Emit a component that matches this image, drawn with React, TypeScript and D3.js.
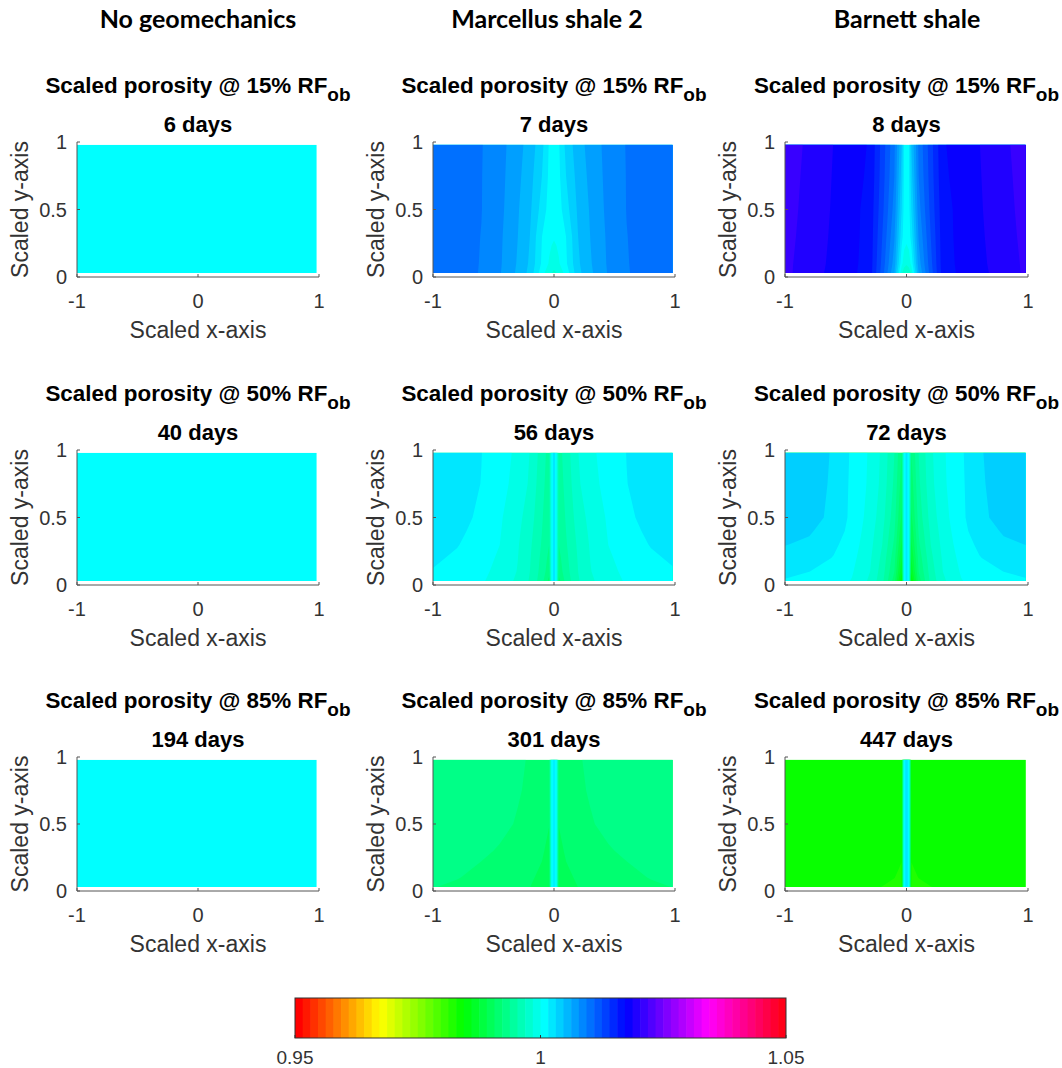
import React from "react";
import * as d3 from "d3";

// ---------- colour scale (MATLAB hsv(64), caxis [0.95 1.05]) ----------
const CMIN = 0.95;
const CMAX = 1.05;
const CMID = 1.0;
const NCOLORS = 64;
const STEP = (CMAX - CMIN) / NCOLORS;

// ---------- labels ----------
const columnHeaders = ["No geomechanics", "Marcellus shale 2", "Barnett shale"];
const rfLevels = ["15%", "50%", "85%"];
const daysByRow = [
  [6, 7, 8],
  [40, 56, 72],
  [194, 301, 447],
];
const xTicks = [-1, 0, 1];
const xTickLabels = ["-1", "0", "1"];
const yTicks = [0, 0.5, 1];
const yTickLabels = ["0", "0.5", "1"];
const cbTicks = [0.95, 1, 1.05];
const cbTickLabels = ["0.95", "1", "1.05"];

// ---------- sampled field geometry ----------
// distance from the fracture (mirrored on both sides of x = 0)
const gridDist = [0, 0.02, 0.04, 0.1, 0.2, 0.3, 0.45, 0.6, 0.8, 1.0];
// scaled y of each sampled row (bottom -> top)
const gridY = [0.03, 0.1, 0.3, 0.5, 0.75, 0.98];
const gridY50 = [0.03, 0.1, 0.2, 0.3, 0.4, 0.5, 0.75, 0.98];
const dataXMax = 0.98;

// ---------- scaled porosity values (rows = y rows, cols = gridDist) ----------
const noGeoPorosity = 1.0;

const marcellus15 = [
  [0.99813, 0.99844, 0.99891, 1.00063, 1.00422, 1.00594, 1.00797, 1.00927, 1.01, 1.01031],
  [0.99906, 0.99938, 0.99984, 1.00133, 1.00445, 1.00609, 1.00805, 1.0093, 1.01, 1.01031],
  [1.00016, 1.00031, 1.00047, 1.00158, 1.0047, 1.00627, 1.00813, 1.00934, 1.01008, 1.01039],
  [1.00047, 1.0007, 1.00094, 1.0025, 1.005, 1.00641, 1.00828, 1.00941, 1.01008, 1.01039],
  [1.00063, 1.00094, 1.00125, 1.00314, 1.00531, 1.00664, 1.00836, 1.00942, 1.01016, 1.01047],
  [1.00078, 1.00109, 1.00141, 1.00359, 1.00563, 1.0068, 1.00844, 1.00945, 1.01016, 1.01047],
];

const barnett15 = [
  [0.99688, 0.99734, 0.99875, 1.00627, 1.01172, 1.01641, 1.0175, 1.0182, 1.01961, 1.02063],
  [0.99875, 0.99922, 1.00047, 1.00703, 1.01203, 1.01648, 1.01758, 1.01831, 1.01969, 1.02063],
  [1.00047, 1.00078, 1.00219, 1.00797, 1.01252, 1.01656, 1.01766, 1.01844, 1.01984, 1.0207],
  [1.0007, 1.00109, 1.00314, 1.00875, 1.01297, 1.01664, 1.01766, 1.01855, 1.01992, 1.02078],
  [1.00086, 1.00133, 1.00406, 1.00939, 1.01328, 1.01688, 1.01781, 1.01864, 1.02, 1.02086],
  [1.00094, 1.00141, 1.0047, 1.00969, 1.01344, 1.01703, 1.01789, 1.01872, 1.02008, 1.02094],
];

const marcellus50 = [
  [1.0025, 1.00031, 0.99156, 0.99438, 0.99672, 0.99813, 0.99938, 1.00016, 1.00078, 1.00117],
  [1.0025, 1.00031, 0.99281, 0.99469, 0.99689, 0.99836, 0.99953, 1.00039, 1.00109, 1.00148],
  [1.0025, 1.00031, 0.99328, 0.99492, 0.99703, 0.99847, 0.99977, 1.00063, 1.00133, 1.0018],
  [1.0025, 1.00031, 0.99377, 0.99516, 0.99719, 0.99859, 1.00002, 1.00086, 1.00164, 1.00211],
  [1.0025, 1.00031, 0.99398, 0.99533, 0.99742, 0.99875, 1.00013, 1.00106, 1.00188, 1.00227],
  [1.0025, 1.00031, 0.99422, 0.99547, 0.99766, 0.99891, 1.00023, 1.00125, 1.00211, 1.00242],
  [1.0025, 1.00031, 0.99453, 0.99578, 0.9982, 0.99953, 1.00047, 1.00153, 1.00227, 1.00258],
  [1.0025, 1.00031, 0.99469, 0.99609, 0.99841, 0.99969, 1.00063, 1.00159, 1.00234, 1.00266],
];

const barnett50 = [
  [1.00219, 1.00047, 0.9844, 0.99141, 0.99578, 0.99813, 0.99992, 1.00063, 1.00109, 1.00141],
  [1.00219, 1.00047, 0.98625, 0.9922, 0.99609, 0.99845, 1.00016, 1.00094, 1.00158, 1.00203],
  [1.00219, 1.00047, 0.98752, 0.99281, 0.99648, 0.99867, 1.00047, 1.00148, 1.00234, 1.00266],
  [1.00219, 1.00047, 0.98875, 0.99344, 0.99689, 0.99891, 1.00078, 1.00188, 1.00289, 1.00317],
  [1.00219, 1.00047, 0.98953, 0.99391, 0.99719, 0.99914, 1.00102, 1.00242, 1.00328, 1.00359],
  [1.00219, 1.00047, 0.99031, 0.99438, 0.9975, 0.99938, 1.00117, 1.00281, 1.00359, 1.00391],
  [1.00219, 1.00047, 0.99141, 0.995, 0.99797, 0.99969, 1.00125, 1.00289, 1.00383, 1.00414],
  [1.00219, 1.00047, 0.9922, 0.99533, 0.99813, 0.99977, 1.00133, 1.00297, 1.00391, 1.00422],
];

const marcellus85 = [
  [1.00188, 1.00063, 0.98969, 0.99016, 0.99064, 0.99109, 0.99148, 0.9918, 0.99203, 0.99222],
  [1.00188, 1.00063, 0.98984, 0.99039, 0.99078, 0.99117, 0.99156, 0.99195, 0.99223, 0.99242],
  [1.00188, 1.00063, 0.99031, 0.99078, 0.99125, 0.99164, 0.99211, 0.99234, 0.9925, 0.99266],
  [1.00188, 1.00063, 0.99066, 0.99125, 0.99172, 0.99211, 0.99242, 0.99258, 0.99266, 0.99273],
  [1.00188, 1.00063, 0.99125, 0.99156, 0.99203, 0.99227, 0.9925, 0.99266, 0.99273, 0.99281],
  [1.00188, 1.00063, 0.99141, 0.99172, 0.99211, 0.99234, 0.9925, 0.99266, 0.99273, 0.99281],
];

const barnett85 = [
  [1.00188, 1.00125, 0.98219, 0.98242, 0.98277, 0.98313, 0.98344, 0.98359, 0.98359, 0.98359],
  [1.00188, 1.00125, 0.9825, 0.98284, 0.98328, 0.98352, 0.98359, 0.98359, 0.98359, 0.98359],
  [1.00188, 1.00125, 0.98305, 0.98328, 0.98352, 0.98359, 0.98359, 0.98359, 0.98359, 0.98359],
  [1.00188, 1.00125, 0.98328, 0.98344, 0.98359, 0.98359, 0.98359, 0.98359, 0.98359, 0.98359],
  [1.00188, 1.00125, 0.98344, 0.98352, 0.98359, 0.98359, 0.98359, 0.98359, 0.98359, 0.98359],
  [1.00188, 1.00125, 0.98344, 0.98352, 0.98359, 0.98359, 0.98359, 0.98359, 0.98359, 0.98359],
];

const noGeoField = gridY.map(() => gridDist.map(() => noGeoPorosity));

const fields = [
  [
    { ys: gridY, z: noGeoField },
    { ys: gridY, z: marcellus15 },
    { ys: gridY, z: barnett15 },
  ],
  [
    { ys: gridY, z: noGeoField },
    { ys: gridY50, z: marcellus50 },
    { ys: gridY50, z: barnett50 },
  ],
  [
    { ys: gridY, z: noGeoField },
    { ys: gridY, z: marcellus85 },
    { ys: gridY, z: barnett85 },
  ],
];

// ---------- layout ----------
const colLayout = [
  { left: 77, right: 319, header: 198 },
  { left: 433, right: 675, header: 547 },
  { left: 785, right: 1028, header: 907 },
];
const rowLayout = [
  { top: 142, bottom: 277 },
  { top: 450, bottom: 585 },
  { top: 757, bottom: 891 },
];
const cbBox = { left: 295, right: 786, top: 998, bottom: 1038 };

const FONT = "'Liberation Sans', Arial, Helvetica, sans-serif";
const HEADER_FONT = "Lato, 'Open Sans', sans-serif";
const TEXT_COLOR = "#333333";
const AXIS_COLOR = "#555555";

const thresholdOf = (k: number) => CMID + (k - NCOLORS / 2) * STEP;
const colorOf = (k: number) => d3.hsl((k / NCOLORS) * 360, 1, 0.5).formatHex();
const indexOf = (v: number) =>
  Math.max(0, Math.min(NCOLORS - 1, Math.floor((v - CMID) / STEP + NCOLORS / 2 + 1e-6)));

const fullX = [...gridDist.slice(1).map((d) => -d).reverse(), ...gridDist];

function contourBands(ys: number[], field: number[][], xScale: any, yScale: any) {
  const nx = fullX.length;
  const ny = ys.length;
  const values = field.flatMap((row) => [...row.slice(1).reverse(), ...row]);
  const ix = d3.scaleLinear().domain(d3.range(nx)).range(fullX);
  const iy = d3.scaleLinear().domain(d3.range(ny)).range(ys);
  const cx = (g: number) => Math.max(0, Math.min(nx - 1, g - 0.5));
  const cy = (g: number) => Math.max(0, Math.min(ny - 1, g - 0.5));
  const path = d3.geoPath(
    d3.geoTransform({
      point(x: number, y: number) {
        (this as any).stream.point(xScale(ix(cx(x))), yScale(iy(cy(y))));
      },
    })
  );
  const gen = d3.contours().size([nx, ny]);
  const [mn, mx] = d3.extent(values) as [number, number];
  const kLo = indexOf(mn);
  const kHi = indexOf(mx);
  const bands: { k: number; d: string }[] = [];
  for (let k = kLo; k <= kHi; k++) {
    const t = k === kLo ? mn - 1 : thresholdOf(k);
    const geom = gen.contour(values, t);
    const d = path(geom as any);
    if (d) bands.push({ k, d });
  }
  return bands;
}

function Panel({ r, c }: { r: number; c: number }) {
  const col = colLayout[c];
  const row = rowLayout[r];
  const xScale = d3.scaleLinear().domain([-1, 1]).range([col.left, col.right]);
  const yScale = d3.scaleLinear().domain([0, 1]).range([row.bottom, row.top]);
  const f = fields[r][c];
  const bands = contourBands(f.ys, f.z, xScale, yScale);
  const cxMid = (col.left + col.right) / 2;
  const clipId = `clip-${r}-${c}`;
  const y0 = yScale(0);
  const x0 = xScale(-1);
  return (
    <g>
      <defs>
        <clipPath id={clipId}>
          <rect
            x={xScale(-1)}
            y={yScale(f.ys[f.ys.length - 1])}
            width={xScale(dataXMax) - xScale(-1)}
            height={yScale(f.ys[0]) - yScale(f.ys[f.ys.length - 1])}
          />
        </clipPath>
      </defs>
      <g clipPath={`url(#${clipId})`}>
        {bands.map((b) => (
          <path key={b.k} d={b.d} fill={colorOf(b.k)} stroke="none" />
        ))}
      </g>
      {/* axes */}
      <line x1={xScale(-1)} x2={xScale(1)} y1={y0} y2={y0} stroke={AXIS_COLOR} strokeWidth={1} />
      <line x1={x0} x2={x0} y1={yScale(0)} y2={yScale(1)} stroke={AXIS_COLOR} strokeWidth={1} />
      {xTicks.map((t, i) => (
        <g key={`xt${i}`}>
          <line x1={xScale(t)} x2={xScale(t)} y1={y0} y2={y0 - 3} stroke={AXIS_COLOR} strokeWidth={1} />
          <text
            x={xScale(t)}
            y={y0 + 31}
            textAnchor="middle"
            fontSize={20}
            fontFamily={FONT}
            fill={TEXT_COLOR}
          >
            {xTickLabels[i]}
          </text>
        </g>
      ))}
      {yTicks.map((t, i) => (
        <g key={`yt${i}`}>
          <line x1={x0} x2={x0 + 3} y1={yScale(t)} y2={yScale(t)} stroke={AXIS_COLOR} strokeWidth={1} />
          <text
            x={x0 - 10}
            y={yScale(t) + 7}
            textAnchor="end"
            fontSize={20}
            fontFamily={FONT}
            fill={TEXT_COLOR}
          >
            {yTickLabels[i]}
          </text>
        </g>
      ))}
      <text
        x={cxMid}
        y={y0 + 61}
        textAnchor="middle"
        fontSize={23}
        fontFamily={FONT}
        fill={TEXT_COLOR}
      >
        Scaled x-axis
      </text>
      <text
        transform={`translate(${x0 - 49},${(row.top + row.bottom) / 2}) rotate(-90)`}
        textAnchor="middle"
        fontSize={23}
        fontFamily={FONT}
        fill={TEXT_COLOR}
      >
        Scaled y-axis
      </text>
      {/* titles */}
      <text
        x={cxMid}
        y={row.top - 49}
        textAnchor="middle"
        fontSize={22.4}
        fontWeight="bold"
        fontFamily={FONT}
        fill="#000"
      >
        {`Scaled porosity @ ${rfLevels[r]} RF`}
        <tspan fontSize={19} dy={8}>
          ob
        </tspan>
      </text>
      <text
        x={cxMid}
        y={row.top - 10}
        textAnchor="middle"
        fontSize={22}
        fontWeight="bold"
        fontFamily={FONT}
        fill="#000"
      >
        {`${daysByRow[r][c]} days`}
      </text>
    </g>
  );
}

function Colorbar() {
  const s = d3.scaleLinear().domain([CMIN, CMAX]).range([cbBox.left, cbBox.right]);
  const cells = d3.range(NCOLORS);
  return (
    <g>
      {cells.map((k) => {
        const xa = s(CMIN + k * STEP);
        const xb = s(CMIN + (k + 1) * STEP);
        return (
          <rect
            key={k}
            x={xa}
            y={cbBox.top}
            width={xb - xa + (k < NCOLORS - 1 ? 0.6 : 0)}
            height={cbBox.bottom - cbBox.top}
            fill={colorOf(k)}
          />
        );
      })}
      <rect
        x={cbBox.left}
        y={cbBox.top}
        width={cbBox.right - cbBox.left}
        height={cbBox.bottom - cbBox.top}
        fill="none"
        stroke="#333"
        strokeWidth={1}
      />
      {cbTicks.map((t, i) => (
        <g key={i}>
          <line x1={s(t)} x2={s(t)} y1={cbBox.bottom} y2={cbBox.bottom - 3} stroke="#333" strokeWidth={1} />
          <text
            x={s(t)}
            y={cbBox.bottom + 26}
            textAnchor="middle"
            fontSize={19}
            fontFamily={FONT}
            fill={TEXT_COLOR}
          >
            {cbTickLabels[i]}
          </text>
        </g>
      ))}
    </g>
  );
}

export default function App() {
  return (
    <svg
      width={1062}
      height={1068}
      viewBox="0 0 1062 1068"
      style={{ position: "absolute", left: 0, top: 0, display: "block", background: "#fff" }}
    >
      <rect x={0} y={0} width={1062} height={1068} fill="#fff" />
      {columnHeaders.map((h, c) => (
        <text
          key={h}
          x={colLayout[c].header}
          y={28}
          textAnchor="middle"
          fontSize={25}
          fontWeight="bold"
          fontFamily={HEADER_FONT}
          fill="#000"
        >
          {h}
        </text>
      ))}
      {rowLayout.map((_, r) =>
        colLayout.map((__, c) => <Panel key={`${r}-${c}`} r={r} c={c} />)
      )}
      <Colorbar />
    </svg>
  );
}
